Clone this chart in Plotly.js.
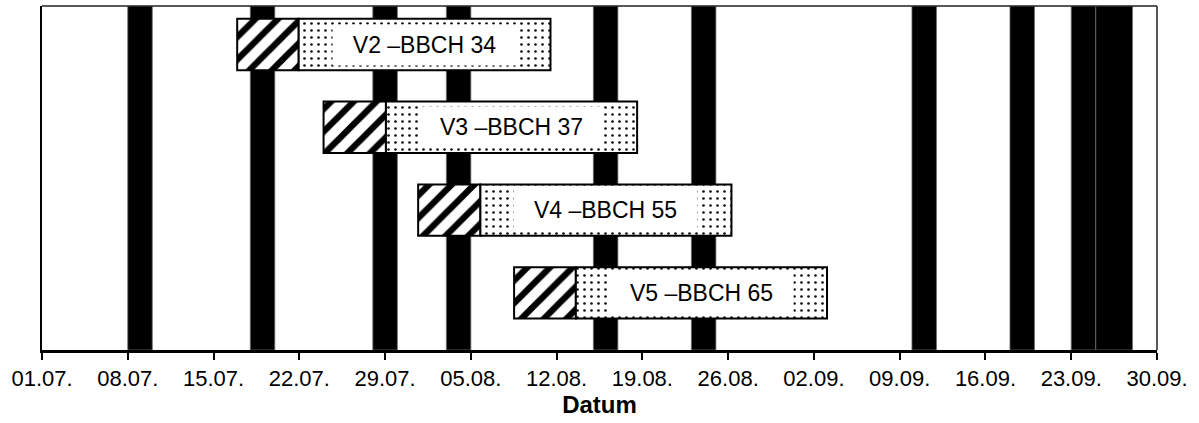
<!DOCTYPE html>
<html>
<head>
<meta charset="utf-8">
<script src="https://cdn.plot.ly/plotly-3.0.1.min.js"></script>
<style>
  html, body { margin: 0; padding: 0; background: #fff; }
  #chart { width: 1199px; height: 423px; }
</style>
</head>
<body>
<div id="chart"></div>
<script>
// days counted from 01.07.
var tickDays = [0, 7, 14, 21, 28, 35, 42, 49, 56, 63, 70, 77, 84, 91];
var tickLabels = ['01.07.', '08.07.', '15.07.', '22.07.', '29.07.', '05.08.', '12.08.',
                  '19.08.', '26.08.', '02.09.', '09.09.', '16.09.', '23.09.', '30.09.'];

// black vertical bars (start day, length in days)
var blackStart = [7, 17, 27, 33, 45, 53, 71, 79, 84, 86];
var blackDays  = [2, 2, 2, 2, 2, 2, 2, 2, 2, 3];

// variants
var variants  = ['V2 –BBCH 34', 'V3 –BBCH 37', 'V4 –BBCH 55', 'V5 –BBCH 65'];
var rowPos    = [4, 3, 2, 1];
var startDay  = [15.93, 22.98, 30.7, 38.53];
var hatchDays = [5.02, 5.09, 5.08, 5.04];
var dotDays   = [20.55, 20.5, 20.49, 20.5];

var blackCenter = blackStart.map(function (s, i) { return s + blackDays[i] / 2; });
var dotStart = startDay.map(function (s, i) { return s + hatchDays[i]; });
var dotCenter = dotStart.map(function (s, i) { return s + dotDays[i] / 2; });

var div = document.getElementById('chart');

var data = [
  {
    type: 'bar',
    x: blackCenter,
    y: blackDays.map(function () { return 1; }),
    base: 0,
    width: blackDays,
    marker: {color: '#000', line: {color: '#6a6a6a', width: 0.8}},
    xaxis: 'x', yaxis: 'y',
    hoverinfo: 'skip'
  },
  {
    type: 'bar',
    orientation: 'h',
    y: rowPos,
    x: hatchDays,
    base: startDay,
    width: 0.62,
    marker: {
      color: '#fff',
      line: {color: '#000', width: 2},
      pattern: {shape: '/', fgcolor: '#000', bgcolor: '#fff', size: 16, solidity: 0.4, fillmode: 'replace'}
    },
    xaxis: 'x', yaxis: 'y2',
    hoverinfo: 'skip'
  },
  {
    type: 'bar',
    orientation: 'h',
    y: rowPos,
    x: dotDays,
    base: dotStart,
    width: 0.62,
    marker: {
      color: '#fff',
      line: {color: '#000', width: 2},
      pattern: {shape: '.', fgcolor: '#111', bgcolor: '#fff', size: 7, solidity: 0.12, fillmode: 'replace'}
    },
    xaxis: 'x', yaxis: 'y2',
    hoverinfo: 'skip'
  }
];

var annotations = variants.map(function (t, i) {
  return {
    x: dotCenter[i], y: rowPos[i], xref: 'x', yref: 'y2',
    text: t, showarrow: false,
    bgcolor: '#fff', width: 183, height: 40, borderpad: 0,
    font: {family: 'Liberation Sans, Arial, sans-serif', size: 23, color: '#000'}
  };
});

var layout = {
  width: 1199,
  height: 423,
  margin: {l: 42, r: 42, t: 6, b: 73},
  paper_bgcolor: '#fff',
  plot_bgcolor: '#fff',
  showlegend: false,
  barmode: 'overlay',
  font: {family: 'Liberation Sans, Arial, sans-serif', color: '#000'},
  xaxis: {
    range: [0, 91],
    tickvals: tickDays,
    ticktext: tickLabels,
    ticks: 'outside', ticklen: 7, tickwidth: 2, tickcolor: '#000',
    tickfont: {size: 22},
    showgrid: false, zeroline: false,
    showline: true, linecolor: '#000', linewidth: 3,
    title: {text: '<b>Datum</b>', font: {size: 24}, standoff: 6},
    fixedrange: true
  },
  yaxis: {
    range: [0, 1],
    showticklabels: false, ticks: '',
    showgrid: false, zeroline: false,
    showline: true, linecolor: '#000', linewidth: 2,
    fixedrange: true
  },
  yaxis2: {
    overlaying: 'y',
    range: [0.31, 4.465],
    showticklabels: false, ticks: '',
    showgrid: false, zeroline: false, showline: false,
    fixedrange: true
  },
  shapes: [
    {type: 'line', xref: 'paper', yref: 'paper', x0: 0, x1: 1, y0: 1, y1: 1,
     line: {color: '#222', width: 1.5}},
    {type: 'line', xref: 'paper', yref: 'paper', x0: 1, x1: 1, y0: 0, y1: 1,
     line: {color: '#222', width: 1.5}}
  ],
  annotations: annotations
};

Plotly.newPlot(div, data, layout, {staticPlot: true, displayModeBar: false});
</script>
</body>
</html>
